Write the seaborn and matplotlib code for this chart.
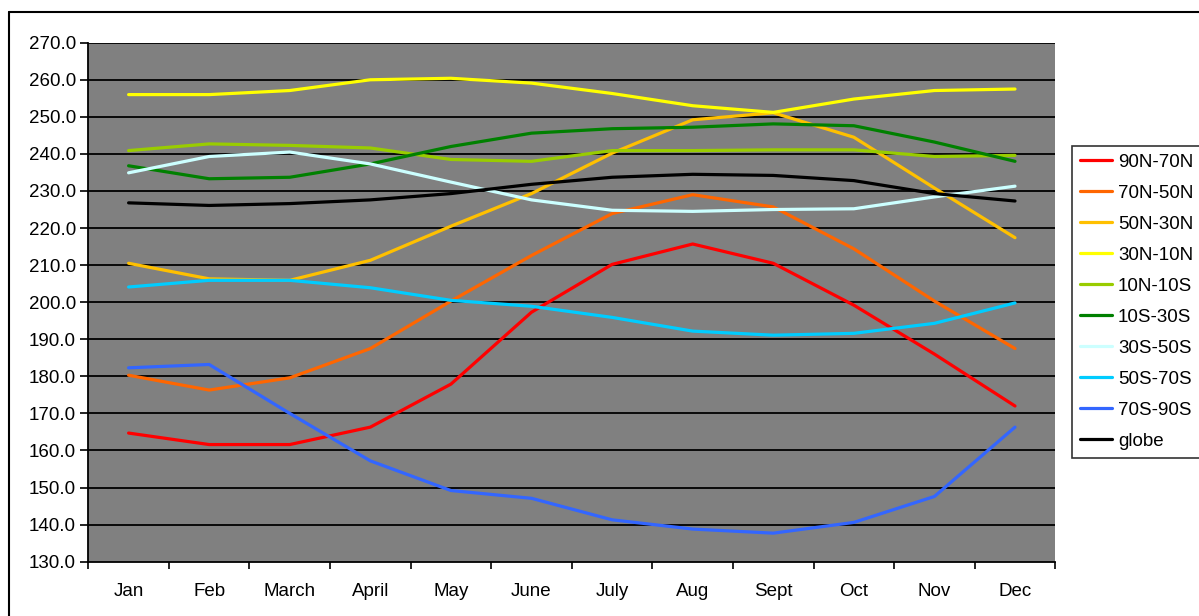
import numpy as np
import pandas as pd
import matplotlib
matplotlib.use("Agg")
import matplotlib.pyplot as plt
import seaborn as sns
from matplotlib.lines import Line2D

months = ["Jan", "Feb", "March", "April", "May", "June", "July", "Aug", "Sept", "Oct", "Nov", "Dec"]

r90N_70N = [164.7, 161.6, 161.6, 166.3, 177.9, 197.3, 210.2, 215.7, 210.5, 199.2, 186.0, 172.0]
r70N_50N = [180.3, 176.3, 179.6, 187.5, 200.3, 212.6, 223.9, 229.0, 225.7, 214.4, 200.3, 187.5]
r50N_30N = [210.5, 206.3, 205.9, 211.3, 220.5, 229.3, 240.2, 249.2, 251.1, 244.5, 230.8, 217.4]
r30N_10N = [256.0, 256.0, 257.1, 260.0, 260.4, 259.1, 256.3, 253.0, 251.2, 254.8, 257.1, 257.5]
r10N_10S = [240.9, 242.7, 242.3, 241.6, 238.5, 238.0, 240.9, 240.9, 241.1, 241.1, 239.3, 239.6]
r10S_30S = [236.8, 233.3, 233.7, 237.3, 242.0, 245.6, 246.8, 247.2, 248.1, 247.6, 243.2, 238.0]
r30S_50S = [234.9, 239.3, 240.5, 237.3, 232.4, 227.6, 224.8, 224.5, 225.0, 225.2, 228.4, 231.3]
r50S_70S = [204.1, 205.9, 205.9, 203.9, 200.5, 198.9, 195.9, 192.2, 191.1, 191.6, 194.3, 199.8]
r70S_90S = [182.3, 183.2, 170.0, 157.2, 149.2, 147.1, 141.3, 138.8, 137.7, 140.6, 147.6, 166.3]
globe = [226.8, 226.1, 226.6, 227.6, 229.3, 231.8, 233.7, 234.5, 234.2, 232.8, 229.3, 227.3]

series_names = ["90N-70N", "70N-50N", "50N-30N", "30N-10N", "10N-10S",
                "10S-30S", "30S-50S", "50S-70S", "70S-90S", "globe"]
series_values = [r90N_70N, r70N_50N, r50N_30N, r30N_10N, r10N_10S,
                 r10S_30S, r30S_50S, r50S_70S, r70S_90S, globe]
colors = ["#FF0000", "#FF6600", "#FFC000", "#FFFF00", "#99CC00",
          "#008000", "#CCFFFF", "#00CCFF", "#3366FF", "#000000"]

rows = []
for name, vals in zip(series_names, series_values):
    for i, v in enumerate(vals):
        rows.append({"region": name, "month_idx": i, "value": v})
df = pd.DataFrame(rows)

sns.set_theme(style="white")
plt.rcParams["font.family"] = ["Liberation Sans", "DejaVu Sans"]

FS = 13.5
W, H = 1199, 616
fig = plt.figure(figsize=(W / 100, H / 100), dpi=100)
fig.patch.set_facecolor("white")
ax = fig.add_axes([88.3 / W, (H - 561.7) / H, (1055.3 - 88.3) / W, (561.7 - 42.7) / H])
ax.set_facecolor("#808080")

palette = dict(zip(series_names, colors))
sns.lineplot(data=df, x="month_idx", y="value", hue="region", hue_order=series_names,
             palette=palette, linewidth=2.3, ax=ax, legend=False, zorder=3)

ax.set_xlim(-0.5, 11.5)
ax.set_ylim(130, 270)
yt = np.arange(130, 271, 10)
ax.set_yticks(yt)
ax.set_yticklabels([f"{v:.1f}" for v in yt], fontsize=FS, color="black")
ax.set_xticks(np.arange(12))
ax.set_xticklabels(months, fontsize=FS, color="black")
ax.set_xticks(np.arange(-0.5, 12.0, 1.0), minor=True)
ax.tick_params(axis="x", which="major", length=0, pad=15)
ax.tick_params(axis="x", which="minor", length=5, width=1.2, direction="out", color="black", bottom=True)
ax.tick_params(axis="y", which="major", length=6, width=1.2, direction="out", color="black", left=True, pad=3)
ax.set_xlabel("")
ax.set_ylabel("")

for v in yt[1:]:
    ax.axhline(v, color="black", linewidth=1.3, zorder=2)

for s in ["top", "right"]:
    ax.spines[s].set_visible(False)
for s in ["left", "bottom"]:
    ax.spines[s].set_visible(True)
    ax.spines[s].set_color("black")
    ax.spines[s].set_linewidth(1.3)

handles = [Line2D([0], [0], color=c, lw=2.3) for c in colors]
leg = fig.legend(handles, series_names, loc="upper left",
                 bbox_to_anchor=(1071.7 / W, 1 - 146 / H),
                 frameon=True, fancybox=False, shadow=False,
                 fontsize=FS, handlelength=1.75, handletextpad=0.3,
                 labelspacing=0.74, borderpad=0.42, borderaxespad=0)
leg.get_frame().set_edgecolor("black")
leg.get_frame().set_linewidth(1.2)
for t in leg.get_texts():
    t.set_color("black")

# outer chart border (top and left visible)
fig.add_artist(Line2D([8.5 / W, 1.0], [1 - 11.5 / H, 1 - 11.5 / H], color="black", lw=1.5, transform=fig.transFigure))
fig.add_artist(Line2D([8.5 / W, 8.5 / W], [0.0, 1 - 11.5 / H], color="black", lw=1.5, transform=fig.transFigure))

fig.savefig("out.png", dpi=100)
